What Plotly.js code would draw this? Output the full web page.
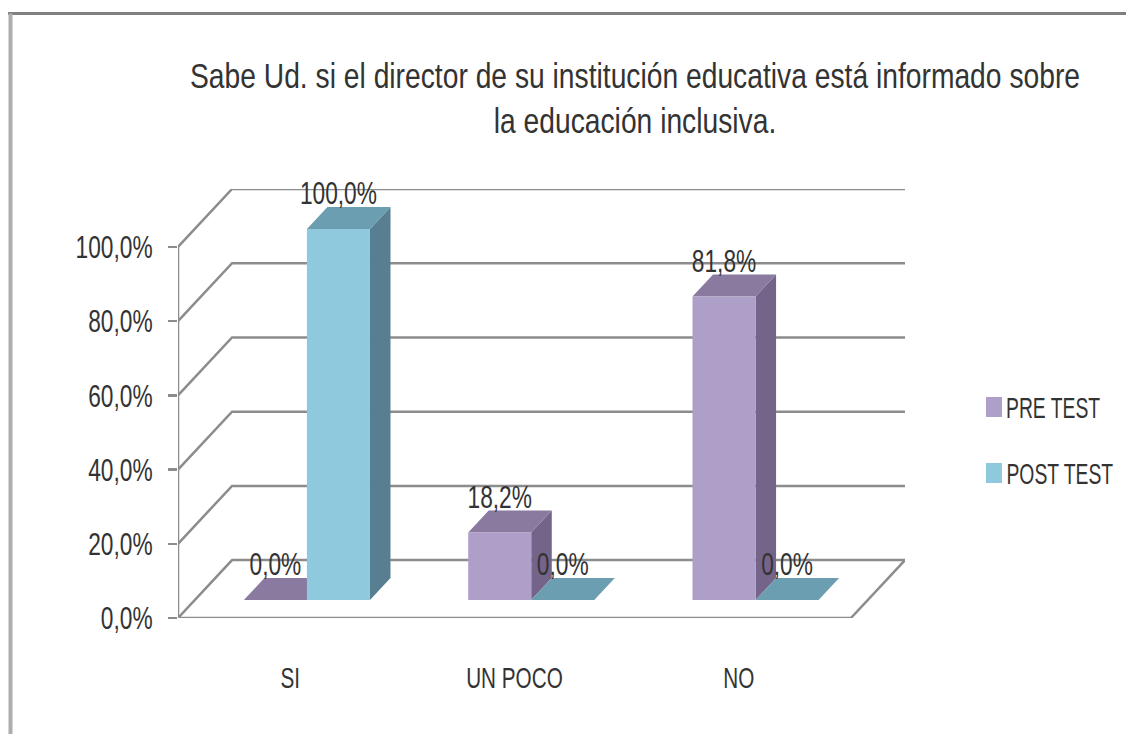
<!DOCTYPE html>
<html>
<head>
<meta charset="utf-8">
<script src="https://cdn.plot.ly/plotly-3.0.1.min.js"></script>
<style>html,body{margin:0;padding:0;background:#fff}#chart{width:1126px;height:734px;overflow:hidden}</style>
</head>
<body>
<div id="chart"></div>
<script>
// Survey answers, in percent
const categories = ["SI", "UN POCO", "NO"];
const preTest = [0, 18.2, 81.8];
const postTest = [100, 0, 0];
const tickValues = [0, 20, 40, 60, 80, 100];
const categoryTicks = [0.5, 1.5, 2.5];
const seriesNames = ["PRE TEST", "POST TEST"];

// Oblique projection of the 3-D box, expressed in axis units
const depthX = 0.241, depthY = 15.6;
const floorEnd = 3;
const barWidth = 0.281;
const zFront = 0.31, zBack = 0.69;

const preColors = {front: "#AE9FC8", top: "#8A7AA0", side: "#75648A"};
const postColors = {front: "#8FC9DE", top: "#6A9EB0", side: "#587E92"};
const gridColor = "#8C8C8C";
const textColor = "#333333";
const FONT = '"Liberation Sans", sans-serif';

const project = (x, v, z) => [x + z * depthX, v + z * depthY];

function polygonTrace(polys, color) {
  const xs = [], ys = [];
  polys.forEach(p => {
    p.forEach(pt => { xs.push(pt[0]); ys.push(pt[1]); });
    xs.push(p[0][0]); ys.push(p[0][1]);
    xs.push(null); ys.push(null);
  });
  return {type: "scatter", mode: "lines", x: xs, y: ys, fill: "toself", fillcolor: color,
          line: {width: 0, color: color}, hoverinfo: "skip", showlegend: false, cliponaxis: false};
}

// Side, top and front faces of one series; the left edge is offset from the category centre
function seriesTraces(values, shift, colors) {
  const sides = [], tops = [], fronts = [];
  values.forEach((v, i) => {
    const x0 = i + 0.5 + shift, x1 = x0 + barWidth;
    if (v > 0) {
      sides.push([project(x1, 0, zFront), project(x1, 0, zBack), project(x1, v, zBack), project(x1, v, zFront)]);
      fronts.push([project(x0, 0, zFront), project(x1, 0, zFront), project(x1, v, zFront), project(x0, v, zFront)]);
    }
    tops.push([project(x0, v, zFront), project(x1, v, zFront), project(x1, v, zBack), project(x0, v, zBack)]);
  });
  return [polygonTrace(sides, colors.side), polygonTrace(tops, colors.top), polygonTrace(fronts, colors.front)];
}

// Walls and floor: a line from the front edge to the back wall, then across
const gridX = [], gridY = [];
tickValues.forEach(v => {
  gridX.push(0, depthX, floorEnd + depthX, null);
  gridY.push(v, v + depthY, v + depthY, null);
});
gridX.push(floorEnd, floorEnd + depthX, null);
gridY.push(0, depthY, null);
const gridTrace = {type: "scatter", mode: "lines", x: gridX, y: gridY,
  line: {color: gridColor, width: 2.5}, hoverinfo: "skip", showlegend: false, cliponaxis: false};
const frontTrace = {type: "scatter", mode: "lines", x: [0, 0, floorEnd], y: [100, 0, 0],
  line: {color: gridColor, width: 2.5}, hoverinfo: "skip", showlegend: false, cliponaxis: false};

// Value labels sit just above the back edge of each bar's top face
const fmt = v => v.toFixed(1).replace(".", ",") + "%";
function labelTrace(values, shift) {
  return {type: "scatter", mode: "text",
    x: values.map((v, i) => i + 0.5 + shift + barWidth / 2 + zFront * depthX),
    y: values.map(v => v + zFront * depthY + 8.8),
    text: values.map(fmt), textposition: "middle center",
    textfont: {family: FONT, size: 32, color: textColor},
    hoverinfo: "skip", showlegend: false, cliponaxis: false};
}

const traces = [gridTrace, frontTrace]
  .concat(seriesTraces(preTest, -barWidth, preColors))
  .concat(seriesTraces(postTest, 0, postColors))
  .concat([labelTrace(preTest, -barWidth), labelTrace(postTest, 0)]);

const W = 1126, H = 734;
const legendItems = [
  {name: seriesNames[0], color: preColors.front, y: 407, textCenter: 1053},
  {name: seriesNames[1], color: postColors.front, y: 473, textCenter: 1060}
];

// Plot-area helpers for items placed outside the axes
const px = x => (x - 178) / (905 - 178);
const py = y => (618 - y) / (618 - 189);

const layout = {
  width: W, height: H,
  paper_bgcolor: "#fff", plot_bgcolor: "rgba(0,0,0,0)",
  margin: {l: 178, r: W - 905, t: 189, b: H - 618, pad: 0},
  showlegend: false,
  title: {text: "Sabe Ud. si el director de su institución educativa está informado sobre<br>la educación inclusiva.",
    x: 635 / W, xanchor: "center", y: 1 - 88 / H, yanchor: "top",
    font: {family: FONT, size: 35, color: textColor}},
  xaxis: {range: [0, floorEnd + depthX], showgrid: false, zeroline: false, showline: false, ticks: "",
    tickmode: "array", tickvals: categoryTicks, ticktext: categories, ticklabelstandoff: 39,
    tickfont: {family: FONT, size: 30, color: textColor}},
  yaxis: {range: [0, 100 + depthY], showgrid: false, zeroline: false, showline: false,
    tickmode: "array", tickvals: tickValues, ticktext: tickValues.map(fmt),
    ticks: "outside", ticklen: 9, tickwidth: 2.5, tickcolor: gridColor, ticklabelstandoff: 9,
    tickfont: {family: FONT, size: 32, color: textColor}},
  shapes: [
    {type: "line", xref: "paper", yref: "paper", x0: px(8), x1: px(W), y0: py(13.5), y1: py(13.5),
      line: {color: "#808080", width: 3}},
    {type: "line", xref: "paper", yref: "paper", x0: px(10.5), x1: px(10.5), y0: py(H), y1: py(13.5),
      line: {color: "#ADADAD", width: 4}}
  ].concat(legendItems.map(it => ({type: "rect", xref: "paper", yref: "paper",
      x0: px(986), x1: px(1002), y0: py(it.y + 10), y1: py(it.y - 10),
      fillcolor: it.color, line: {width: 0}}))),
  annotations: legendItems.map(it => ({xref: "paper", yref: "paper", showarrow: false,
      x: px(it.textCenter), xanchor: "center", y: py(it.y), yanchor: "middle", text: it.name,
      font: {family: FONT, size: 30, color: textColor}}))
};

// The chart's lettering is condensed: scale each text horizontally about its anchor
const condense = [
  [".gtitle", 0.807],
  [".ytick text", 0.71],
  [".xtick text", 0.69],
  [".textpoint text", 0.71],
  [".annotation-text", 0.644]
];

Plotly.newPlot("chart", traces, layout, {displayModeBar: false, staticPlot: true}).then(gd => {
  condense.forEach(([selector, k]) => {
    gd.querySelectorAll(selector).forEach(el => {
      const box = el.getBBox();
      const anchor = getComputedStyle(el).textAnchor;
      const ax = anchor === "end" ? box.x + box.width
        : anchor === "start" ? box.x : box.x + box.width / 2;
      const prior = el.getAttribute("transform") || "";
      el.setAttribute("transform", `${prior} translate(${ax},0) scale(${k},1) translate(${-ax},0)`);
    });
  });
});
</script>
</body>
</html>
